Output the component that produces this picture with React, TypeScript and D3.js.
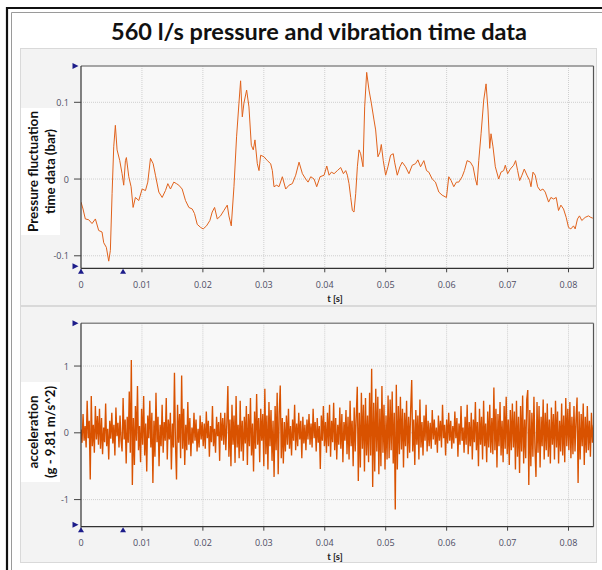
import React from "react";
import * as d3 from "d3";

const TITLE = "560 l/s pressure and vibration time data";
const xTicks = [0, 0.01, 0.02, 0.03, 0.04, 0.05, 0.06, 0.07, 0.08];
const xTickLabels = ["0", "0.01", "0.02", "0.03", "0.04", "0.05", "0.06", "0.07", "0.08"];
const pTicks = [-0.1, 0, 0.1];
const pTickLabels = ["-0.1", "0", "0.1"];
const aTicks = [-1, 0, 1];
const aTickLabels = ["-1", "0", "1"];
const markerTimes = [0, 0.0069];

const pressureT = [
  0, 0.00033, 0.00071, 0.00126, 0.00181, 0.00236, 0.0029, 0.00345, 0.00373, 0.00416, 0.00455, 0.00482,
  0.0051, 0.00537, 0.00564, 0.00592, 0.00636, 0.00674, 0.00701, 0.00729, 0.00745, 0.00784, 0.00822,
  0.00855, 0.00893, 0.00948, 0.01003, 0.01058, 0.01096, 0.0114, 0.01184, 0.01222, 0.01277, 0.01332,
  0.01386, 0.01425, 0.01468, 0.01523, 0.01567, 0.01605, 0.0166, 0.01715, 0.0177, 0.01825, 0.01863,
  0.01907, 0.01962, 0.02005, 0.0206, 0.02115, 0.02153, 0.02192, 0.02236, 0.0229, 0.02345, 0.024,
  0.02427, 0.02466, 0.0251, 0.02553, 0.02592, 0.02619, 0.02647, 0.02674, 0.02718, 0.02756, 0.02795,
  0.02827, 0.02855, 0.02893, 0.02921, 0.02948, 0.03003, 0.03058, 0.03112, 0.0314, 0.03167, 0.03211,
  0.03249, 0.03304, 0.03359, 0.03414, 0.03468, 0.03523, 0.03578, 0.03633, 0.03688, 0.03726, 0.0377,
  0.03825, 0.03868, 0.03923, 0.03989, 0.04033, 0.04071,
  0.04109, 0.04153, 0.04207, 0.04262, 0.04306, 0.04344, 0.04371, 0.04398, 0.04426, 0.04453, 0.0448,
  0.04508, 0.04535, 0.04562, 0.04589, 0.04628, 0.04655, 0.04688, 0.04726, 0.04764, 0.04808, 0.04835,
  0.04873, 0.04906, 0.04928, 0.0496, 0.04999, 0.05037, 0.0508, 0.05124, 0.05146, 0.0519, 0.05233,
  0.05271, 0.05326, 0.05381, 0.05435, 0.0549, 0.05528, 0.05572, 0.05626, 0.0567, 0.05708, 0.05763,
  0.05817, 0.05872, 0.05926, 0.05997, 0.06035, 0.06074, 0.06117, 0.06161, 0.06199, 0.06254, 0.06292,
  0.06336, 0.0639, 0.06434, 0.06472, 0.06499, 0.06527, 0.06565, 0.06609, 0.06647, 0.06679, 0.06707,
  0.06728, 0.06761, 0.06799, 0.06854, 0.06892, 0.06936, 0.06963, 0.07001, 0.07045, 0.071, 0.07132,
  0.07165, 0.07198, 0.07236, 0.07274, 0.07318, 0.07362, 0.07384, 0.07417, 0.07454, 0.07493, 0.07536,
  0.0758, 0.07618, 0.07673, 0.07711, 0.07755, 0.07798, 0.07836, 0.07875, 0.07918, 0.07962, 0.08,
  0.08038, 0.08082, 0.08109, 0.08147, 0.0818, 0.08218, 0.08273, 0.08327, 0.08366, 0.08399,
];

const pressureV = [
  -0.03, -0.039, -0.052, -0.053, -0.058, -0.052, -0.067, -0.069, -0.083, -0.089, -0.107, -0.093,
  -0.019, 0.042, 0.07, 0.038, 0.024, 0.007, -0.008, 0.024, 0.028, 0.003, -0.01,
  -0.037, -0.024, -0.028, -0.013, -0.015, -0.004, 0.027, 0.02, 0.005, -0.017, -0.024,
  -0.015, -0.006, -0.013, -0.004, -0.006, -0.008, -0.013, -0.028, -0.037, -0.039, -0.045,
  -0.059, -0.063, -0.065, -0.061, -0.054, -0.043, -0.037, -0.052, -0.048, -0.041, -0.034,
  -0.048, -0.061, -0.01, 0.055, 0.099, 0.128, 0.081, 0.099, 0.116, 0.094, 0.044,
  0.038, 0.051, 0.02, 0.011, 0.031, 0.029, 0.024, 0.02, 0.011, -0.01, -0.008,
  -0.01, 0.003, -0.013, -0.008, -0.006, 0.005, 0.022, 0.007, 0.0, -0.004, 0.003,
  0.0, -0.01, 0.003, 0.005, 0.017, 0.005,
  0.009, 0.007, 0.011, 0.015, 0.007, 0.011, 0.005, -0.006, -0.024, -0.041, -0.043,
  -0.019, 0.016, 0.038, 0.033, 0.016, 0.094, 0.139, 0.116, 0.099, 0.077, 0.064,
  0.029, 0.035, 0.045, 0.024, 0.005, 0.016, 0.031, 0.033, 0.022, 0.005, 0.016,
  0.022, 0.016, 0.007, 0.018, 0.02, 0.025, 0.016, 0.024, 0.011, 0.009, 0.0,
  -0.004, -0.017, -0.021, -0.024, 0.003, -0.002, -0.01, -0.004, -0.004, 0.003, 0.011,
  0.024, 0.022, 0.016, 0.0, -0.008, 0.024, 0.059, 0.103, 0.124, 0.09, 0.04,
  0.059, 0.042, 0.016, 0.0, 0.009, 0.011, 0.018, 0.007, 0.013, 0.018, 0.024,
  0.011, -0.002, 0.005, 0.013, 0.005, -0.002, -0.01, 0.009, 0.005, -0.01, -0.015,
  -0.013, -0.017, -0.03, -0.024, -0.026, -0.024, -0.041, -0.034, -0.039, -0.05, -0.063,
  -0.065, -0.061, -0.065, -0.052, -0.048, -0.054, -0.05, -0.048, -0.05, -0.051,
];

const accelV = [
  0.05,-0.15,0.28,-0.12,0.10,-0.22,0.48,-0.08,0.18,-0.70,0.55,-0.20,0.12,-0.30,0.40,-0.10,0.25,-0.18,0.36,-0.24,
  0.22,-0.32,0.08,-0.14,0.44,-0.20,0.06,-0.40,0.18,-0.09,0.30,-0.16,0.12,-0.34,0.38,-0.05,0.15,-0.22,0.26,-0.12,
  -0.28,0.52,-0.10,0.20,-0.46,0.24,-0.15,0.62,-0.30,1.09,-0.78,0.22,-0.48,0.40,-0.12,0.70,-0.26,0.10,-0.44,0.36,
  -0.18,0.55,-0.34,0.14,-0.58,0.26,-0.08,0.48,-0.22,0.30,-0.75,0.18,-0.36,0.60,-0.14,0.24,-0.50,0.12,-0.20,0.42,
  -0.30,0.16,-0.12,0.52,-0.40,0.20,-0.10,0.30,-0.55,0.14,-0.22,0.90,-0.18,-0.70,0.42,-0.15,0.28,-0.38,0.86,-0.24,
  0.36,-0.48,0.12,-0.26,0.46,-0.18,0.22,-0.35,0.08,-0.16,0.30,-0.12,0.20,-0.28,0.06,-0.22,0.26,-0.10,0.16,-0.20,
  0.14,-0.24,0.32,-0.08,0.18,-0.36,0.10,-0.14,0.40,-0.20,0.06,-0.30,0.24,-0.05,0.16,-0.42,0.30,-0.12,0.22,-0.18,
  0.30,-0.26,0.15,0.70,-0.36,0.20,-0.50,0.42,-0.18,0.26,-0.45,0.55,-0.22,0.12,-0.38,0.48,-0.28,0.18,-0.42,0.24,
  -0.16,0.40,-0.48,0.28,-0.20,0.52,-0.34,0.14,-0.58,0.32,-0.24,0.58,-0.18,0.22,-0.44,0.36,-0.12,0.28,-0.50,0.66,
  -0.32,0.26,-0.55,0.46,-0.20,0.34,-0.42,0.18,-0.66,0.40,-0.26,0.60,-0.62,0.30,0.71,-0.38,0.22,-0.46,0.16,-0.28,
  0.26,-0.18,0.36,-0.24,0.10,-0.34,0.20,-0.12,0.42,-0.26,0.14,-0.20,0.30,-0.10,0.18,-0.38,0.24,-0.16,0.12,-0.26,
  0.20,-0.10,0.28,-0.18,0.14,-0.22,0.36,-0.08,0.16,-0.28,0.22,-0.15,0.10,-0.54,0.26,-0.12,0.40,-0.20,0.16,-0.30,
  0.30,-0.20,0.42,-0.36,0.18,-0.14,0.45,-0.26,0.22,-0.40,0.12,-0.18,0.38,-0.24,0.28,-0.44,0.16,-0.12,0.34,-0.32,
  0.24,-0.40,0.48,-0.20,0.18,-0.50,0.38,-0.28,0.26,0.69,-0.72,0.30,-0.52,0.60,-0.24,0.42,-0.58,0.52,-0.34,0.26,
  -0.44,0.60,-0.34,0.96,-0.81,0.45,-0.58,0.66,-0.28,0.54,-0.62,0.36,-0.50,0.70,-0.30,0.42,-0.55,0.26,-0.40,0.56,
  -0.38,0.50,-0.26,0.62,-0.46,0.30,-1.15,0.72,-0.55,0.40,-0.32,0.54,-0.25,0.36,-0.52,0.30,-0.20,0.48,-0.38,0.24,
  -0.30,0.36,0.79,-0.28,0.20,-0.48,0.34,-0.18,0.26,-0.40,0.50,-0.22,0.16,-0.34,0.26,-0.12,0.42,-0.28,0.18,-0.20,
  0.15,-0.24,0.34,-0.10,0.20,-0.18,0.08,-0.30,0.26,-0.12,0.18,-0.22,0.42,-0.08,0.12,-0.34,0.20,-0.16,0.30,-0.12,
  0.18,-0.24,0.10,-0.16,0.32,-0.08,0.22,-0.36,0.14,-0.18,0.40,-0.12,0.08,-0.30,0.24,-0.18,0.42,-0.32,0.16,-0.20,
  0.30,-0.40,0.20,-0.14,0.46,-0.26,0.16,-0.50,0.36,-0.18,0.24,-0.40,0.48,-0.20,0.14,-0.44,0.32,-0.22,0.42,-0.30,
  0.22,-0.32,0.68,-0.26,0.36,-0.52,0.28,-0.20,0.46,-0.34,0.18,-0.44,0.40,-0.24,0.54,-0.32,0.20,-0.48,0.34,-0.26,
  0.44,-0.22,0.32,-0.55,0.48,-0.36,0.24,-0.60,0.40,-0.28,0.56,-0.46,0.20,-0.38,0.50,0.64,-0.78,0.34,-0.50,0.30,
  -0.36,0.54,-0.24,-0.66,0.46,-0.30,0.40,-0.52,0.24,-0.20,0.50,-0.40,0.30,-0.26,0.44,-0.36,0.20,-0.46,0.38,-0.18,
  0.28,-0.40,0.48,-0.22,0.32,-0.46,0.18,-0.28,0.44,-0.34,0.26,-0.44,0.52,-0.20,0.36,-0.26,0.46,-0.38,0.24,-0.32,
  0.40,-0.28,0.20,0.53,-0.75,0.32,-0.40,0.28,-0.20,0.44,-0.48,0.24,-0.30,0.40,-0.26,0.18,-0.36,0.30,-0.15,0.12,
];
const accelDuration = 0.0841;

const FONT = "'Open Sans', 'Noto Sans', sans-serif";
const LFONT = "Lato, 'Open Sans', sans-serif";
const TICK_COLOR = "#4d4d63";
const MARK = "#1c1c8a";

type PanelProps = {
  top: number; plotTop: number; plotBottom: number; panelBottom: number;
  yDomain: [number, number]; yTicks: number[]; yTickLabels: string[];
  labelLines: string[]; labelBox: [number, number]; labelWidths: number[];
  children: (x: d3.ScaleLinear<number, number>, y: d3.ScaleLinear<number, number>) => React.ReactNode;
};

const PL = 81, PR = 593.5;

function Panel(p: PanelProps) {
  const x = d3.scaleLinear().domain([0, 0.0841]).range([PL, PR]);
  const y = d3.scaleLinear().domain(p.yDomain).range([p.plotBottom, p.plotTop]);
  const clipId = "clip" + p.top;
  const midY = (p.labelBox[0] + p.labelBox[1]) / 2;
  return (
    <g>
      <rect x={20.5} y={p.top + 0.5} width={576} height={p.panelBottom - p.top} fill="#f3f3f3" stroke="#d9d9d9" />
      <rect x={PL} y={p.plotTop} width={PR - PL} height={p.plotBottom - p.plotTop} fill="#f8f8f8" />
      <clipPath id={clipId}>
        <rect x={PL} y={p.plotTop} width={PR - PL} height={p.plotBottom - p.plotTop} />
      </clipPath>
      {xTicks.slice(1).map((t) => (
        <line key={"gx" + t} x1={x(t)} x2={x(t)} y1={p.plotTop} y2={p.plotBottom} stroke="#cfcfcf" strokeDasharray="1,1" />
      ))}
      {p.yTicks.map((t) => (
        <line key={"gy" + t} x1={PL} x2={PR} y1={y(t)} y2={y(t)} stroke="#cfcfcf" strokeDasharray="1,1" />
      ))}
      <g clipPath={`url(#${clipId})`}>{p.children(x, y)}</g>
      <line x1={PL} x2={PR} y1={p.plotTop} y2={p.plotTop} stroke="#8a8a8a" strokeWidth={1.5} />
      <line x1={PR} x2={PR} y1={p.plotTop} y2={p.plotBottom} stroke="#555" strokeWidth={1.2} />
      <line x1={PL} x2={PL} y1={p.plotTop} y2={p.plotBottom} stroke="#333" strokeWidth={1.2} />
      <line x1={PL} x2={PR} y1={p.plotBottom} y2={p.plotBottom} stroke="#333" strokeWidth={1.2} />
      {p.yTicks.map((t, i) => (
        <g key={"yt" + t}>
          <line x1={74} x2={PL} y1={y(t)} y2={y(t)} stroke="#444" />
          <text x={69} y={y(t)} textAnchor="end" dominantBaseline="central" fontSize={9} fontFamily={FONT} fill={TICK_COLOR}>
            {p.yTickLabels[i]}
          </text>
        </g>
      ))}
      {xTicks.map((t, i) => (
        <g key={"xt" + t}>
          <line x1={x(t)} x2={x(t)} y1={p.plotBottom} y2={p.plotBottom + 4} stroke="#444" />
          <text x={x(t)} y={p.plotBottom + 16} textAnchor="middle" dominantBaseline="central" fontSize={9} fontFamily={FONT} fill={TICK_COLOR}>
            {xTickLabels[i]}
          </text>
        </g>
      ))}
      <text x={335} y={p.plotBottom + 30} textAnchor="middle" dominantBaseline="central" fontSize={9.5} fontWeight="bold" fontFamily={LFONT} fill="#222">
        t [s]
      </text>
      <path d={`M72.5,${p.plotTop - 3} L78.5,${p.plotTop} L72.5,${p.plotTop + 3} Z`} fill={MARK} />
      <path d={`M72.5,${p.plotBottom - 5} L78.5,${p.plotBottom - 2} L72.5,${p.plotBottom + 1} Z`} fill={MARK} />
      {markerTimes.map((t) => (
        <path key={"m" + t} d={`M${x(t) - 3},${p.plotBottom + 5.5} L${x(t)},${p.plotBottom + 0.5} L${x(t) + 3},${p.plotBottom + 5.5} Z`} fill={MARK} />
      ))}
      <rect x={21} y={p.labelBox[0]} width={39} height={p.labelBox[1] - p.labelBox[0]} fill="#ffffff" />
      {p.labelLines.map((s, i) => {
        const cx = 33.5 + i * 16.5;
        return (
          <text key={s} transform={`translate(${cx},${midY}) rotate(-90)`} textAnchor="middle" dominantBaseline="central"
            fontSize={12.5} fontWeight="bold" fontFamily={LFONT} fill="#111" textLength={p.labelWidths[i]} lengthAdjust="spacingAndGlyphs">
            {s}
          </text>
        );
      })}
    </g>
  );
}

export default function App() {
  const pressureData = pressureT.map((t, i) => [t, pressureV[i]] as [number, number]);
  const dt = accelDuration / (accelV.length - 1);
  const accelData = accelV.map((v, i) => [i * dt, v] as [number, number]);
  return (
    <svg width={602} height={570} style={{ position: "absolute", left: 0, top: 0, background: "#fff" }}>
      <rect x={0} y={0} width={602} height={570} fill="#fff" />
      <path d="M7,570 L7,8 L602,8" fill="none" stroke="#111" strokeWidth={2.2} />
      <path d="M11.5,570 L11.5,12.5 L602,12.5" fill="none" stroke="#9a9a9a" strokeWidth={1} />
      <text x={319} y={31} textAnchor="middle" dominantBaseline="central" fontSize={22} fontWeight="bold" fontFamily={LFONT}
        fill="#111" textLength={416} lengthAdjust="spacingAndGlyphs">
        {TITLE}
      </text>
      <Panel top={48} plotTop={66} plotBottom={268.3} panelBottom={305}
        yDomain={[-0.1163, 0.1473]} yTicks={pTicks} yTickLabels={pTickLabels}
        labelLines={["Pressure fluctuation", "time data (bar)"]} labelBox={[108, 235]} labelWidths={[121, 85]}>
        {(x, y) => {
          const line = d3.line<[number, number]>().x((d) => x(d[0])).y((d) => y(d[1]));
          return <path d={line(pressureData) || ""} fill="none" stroke="#e0621c" strokeWidth={1} strokeLinejoin="round" />;
        }}
      </Panel>
      <Panel top={306} plotTop={323.3} plotBottom={526.7} panelBottom={562}
        yDomain={[-1.406, 1.64]} yTicks={aTicks} yTickLabels={aTickLabels}
        labelLines={["acceleration", "(g - 9.81 m/s^2)"]} labelBox={[382, 482]} labelWidths={[73, 92]}>
        {(x, y) => {
          const line = d3.line<[number, number]>().x((d) => x(d[0])).y((d) => y(d[1]));
          return <path d={line(accelData) || ""} fill="none" stroke="#d95200" strokeWidth={1.35} strokeLinejoin="miter" strokeMiterlimit={2} />;
        }}
      </Panel>
    </svg>
  );
}
